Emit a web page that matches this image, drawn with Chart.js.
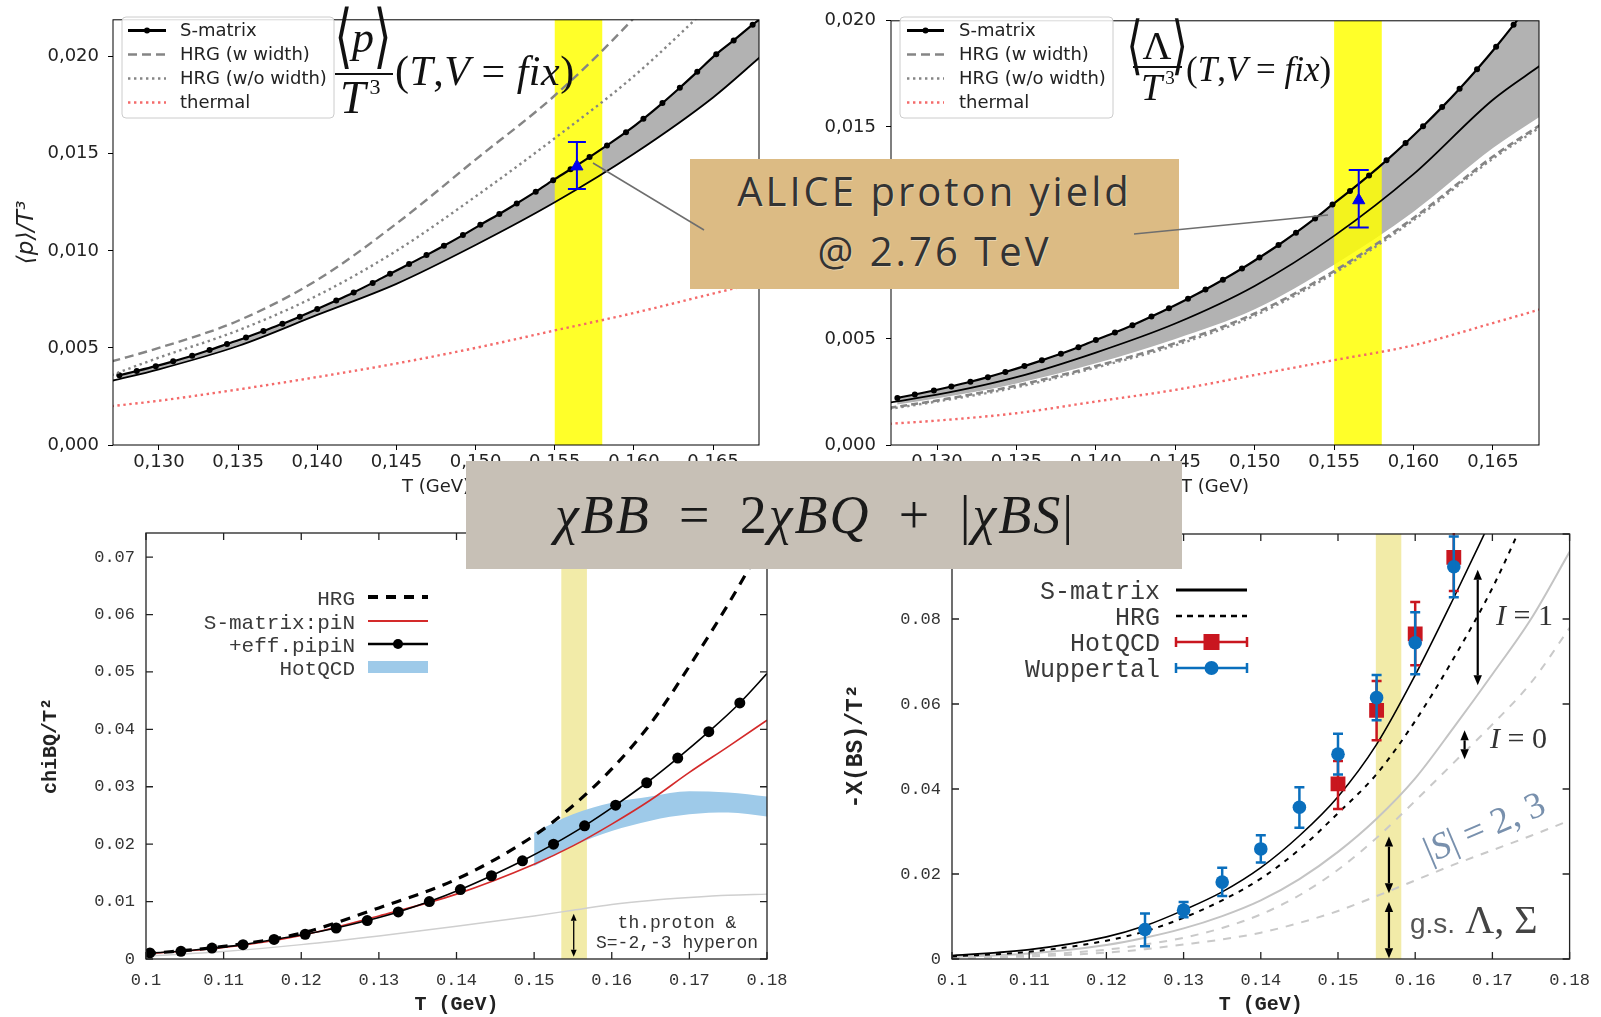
<!DOCTYPE html>
<html>
<head>
<meta charset="utf-8">
<title>S-matrix yields and susceptibilities</title>
<script src="https://cdn.jsdelivr.net/npm/chart.js@4.4.1/dist/chart.umd.min.js"></script>
<style>
  body { margin: 0; background: #fff; }
  #page { position: relative; width: 1601px; height: 1017px; overflow: hidden; background: #fff; }
  canvas { position: absolute; }
  .tex { position: absolute; font-family: 'Liberation Serif', 'DejaVu Serif', serif; color: #111; white-space: nowrap; }
  .ang { display: inline-block; font-style: normal; transform: scale(1.05, 1.6); }
  .bar { position: absolute; height: 2px; background: #111; }
  .mono { position: absolute; font-family: 'Liberation Mono', monospace; white-space: nowrap; }
  #aliceBox {
    position: absolute; left: 690px; top: 159px; width: 489px; height: 130px; box-sizing: border-box;
    padding-top: 2px; background: #dcbb84; color: #333; text-align: center;
    font-family: 'Open Sans', sans-serif; font-size: 40px; line-height: 60px; letter-spacing: 3px;
    text-shadow: 1px 1px 0 rgba(255, 255, 255, 0.35);
  }
  #chiBox { position: absolute; left: 466px; top: 461px; width: 716px; height: 108px; background: #c7c0b6; }
</style>
</head>
<body>
<div id="page">
  <canvas id="protonChart" width="800" height="500" style="left:0;top:0"></canvas>
  <canvas id="lambdaChart" width="811" height="500" style="left:790px;top:0"></canvas>
  <canvas id="bqChart" width="800" height="517" style="left:0;top:500px"></canvas>
  <canvas id="bsChart" width="801" height="517" style="left:800px;top:500px"></canvas>

  <div class="tex" style="left:333px;top:16px;width:60px;text-align:center;font-size:44px;line-height:44px"><span class="ang">⟨</span><i>p</i><span class="ang">⟩</span></div>
  <div class="bar" style="left:335px;top:73px;width:58px"></div>
  <div class="tex" style="left:340px;top:75px;font-size:46px;line-height:46px"><i>T</i><span style="font-size:22px;position:relative;top:-19px;margin-left:4px">3</span></div>
  <div class="tex" style="left:395px;top:50px;font-size:42px;line-height:42px;letter-spacing:0.5px">(<i>T</i>,<i>V</i> = <i>fix</i>)</div>

  <div class="tex" style="left:1127px;top:26px;width:60px;text-align:center;font-size:40px;line-height:40px"><span class="ang">⟨</span>Λ<span class="ang">⟩</span></div>
  <div class="bar" style="left:1133px;top:66px;width:49px"></div>
  <div class="tex" style="left:1141px;top:68px;font-size:38px;line-height:38px"><i>T</i><span style="font-size:19px;position:relative;top:-16px;margin-left:3px">3</span></div>
  <div class="tex" style="left:1186px;top:52px;font-size:35px;line-height:35px">(<i>T</i>,<i>V</i> = <i>fix</i>)</div>

  <div class="tex" style="left:1496px;top:600px;font-size:30px;line-height:30px;color:#333"><i>I</i> = 1</div>
  <div class="tex" style="left:1490px;top:723px;font-size:30px;line-height:30px;color:#333"><i>I</i> = 0</div>
  <div class="tex" style="left:1399px;top:808px;width:170px;text-align:center;font-size:37px;line-height:37px;color:#7890ad;transform:rotate(-23deg)">|<i>S</i>| = 2, 3</div>
  <div class="tex" style="left:1410px;top:900px;font-size:40px;line-height:40px;color:#444"><span style="font-family:'Liberation Sans';font-size:28px;color:#555">g.s.</span> Λ, Σ</div>
  <div class="mono" style="left:577px;top:913px;width:200px;text-align:center;font-size:18px;line-height:20px;color:#333">th.proton &amp;<br>S=-2,-3 hyperon</div>

  <div id="aliceBox">ALICE proton yield<br>@ 2.76 TeV</div>
  <svg width="1601" height="1017" style="position:absolute;left:0;top:0">
    <line x1="593" y1="163" x2="704" y2="230" stroke="#6e6e6e" stroke-width="1.5"></line>
    <line x1="1134" y1="234" x2="1328" y2="215" stroke="#6e6e6e" stroke-width="1.5"></line>
  </svg>
  <div id="chiBox">
    <div class="tex" style="left:89px;top:27px;font-size:54px;line-height:54px;letter-spacing:2px;color:#1a1a1a"><i>χBB</i> &#8201;=&#8201; 2<i>χBQ</i> &#8201;+&#8201; |<i>χBS</i>|</div>
  </div>
</div>

<script>
// ---- top panels: yields over T^3 ----
// S-matrix dots (the last entry is only where the curve leaves the frame)
let dotT = [0.1275, 0.1286, 0.1298, 0.1309, 0.1321, 0.1332, 0.1343, 0.1355, 0.1366, 0.1378, 0.1389, 0.1400,
  0.1412, 0.1423, 0.1435, 0.1446, 0.1458, 0.1469, 0.1480, 0.1492, 0.1503, 0.1515, 0.1526, 0.1538,
  0.1549, 0.1560, 0.1572, 0.1583, 0.1595, 0.1606, 0.1618, 0.1629, 0.1640, 0.1652, 0.1663, 0.1675, 0.1679];
let curveT = [0.127, 0.130, 0.135, 0.140, 0.145, 0.150, 0.155, 0.160, 0.165, 0.168];
let topTicksT = [0.130, 0.135, 0.140, 0.145, 0.150, 0.155, 0.160, 0.165];
let topTicksY = [0, 0.005, 0.010, 0.015, 0.020];
let topNames = ['S-matrix', 'HRG (w width)', 'HRG (w/o width)', 'thermal'];
let freezeBand = [0.155, 0.158];

let protonUpper = [0.00359, 0.00381, 0.00406, 0.00431, 0.00460, 0.00489, 0.00520, 0.00554, 0.00587, 0.00624, 0.00661, 0.00700,
  0.00744, 0.00786, 0.00835, 0.00882, 0.00932, 0.00978, 0.01026, 0.01081, 0.01134, 0.01190, 0.01244, 0.01305,
  0.01364, 0.01420, 0.01483, 0.01543, 0.01611, 0.01680, 0.01761, 0.01840, 0.01922, 0.02013, 0.02084, 0.02165, 0.02190];
let protonLower = [0.0033, 0.0039, 0.0051, 0.0067, 0.0083, 0.0103, 0.0125, 0.0150, 0.0179, 0.0200];
let protonHrgW = [0.0043, 0.0050, 0.0064, 0.0085, 0.0114, 0.0147, 0.0180, 0.0220, 0.0268, 0.0300];
let protonHrgWo = [0.0036, 0.0045, 0.0059, 0.0077, 0.0100, 0.0128, 0.0158, 0.0190, 0.0228, 0.0252];
let protonThermal = [0.0020, 0.00228, 0.00286, 0.0035, 0.0042, 0.0050, 0.0059, 0.0068, 0.0078, 0.0084];
let aliceProtonT = [0.1564];
let aliceProton = [0.01435];
let aliceProtonLo = [0.01318];
let aliceProtonHi = [0.01561];

let lambdaUpper = [0.00222, 0.00238, 0.00257, 0.00276, 0.00298, 0.00320, 0.00344, 0.00372, 0.00399, 0.00430, 0.00461, 0.00495,
  0.00530, 0.00565, 0.00606, 0.00645, 0.00690, 0.00733, 0.00779, 0.00832, 0.00884, 0.00943, 0.01001, 0.01068,
  0.01134, 0.01198, 0.01271, 0.01342, 0.01424, 0.01503, 0.01593, 0.01680, 0.01772, 0.01878, 0.01981, 0.02099, 0.02140];
let lambdaMid = [0.0020, 0.00237, 0.0032, 0.00436, 0.00573, 0.0075, 0.00986, 0.01277, 0.01628, 0.0179];
let lambdaEdge = [0.00185, 0.0022, 0.0029, 0.00385, 0.0050, 0.0064, 0.0085, 0.0110, 0.0140, 0.0155];
let lambdaHrgW = [0.00175, 0.0021, 0.0028, 0.00372, 0.0048, 0.0062, 0.0082, 0.0107, 0.0136, 0.0151];
let lambdaHrgWo = [0.0017, 0.00205, 0.00272, 0.00365, 0.0047, 0.0061, 0.0081, 0.0106, 0.0135, 0.0150];
let lambdaThermal = [0.0010, 0.00115, 0.0015, 0.00205, 0.0026, 0.0033, 0.0040, 0.0047, 0.00575, 0.0064];
let aliceLambdaT = [0.15655];
let aliceLambda = [0.01154];
let aliceLambdaLo = [0.01026];
let aliceLambdaHi = [0.01297];

// ---- bottom left: chi_BQ / T^2 ----
let bqT = [0.10, 0.11, 0.12, 0.13, 0.14, 0.15, 0.155, 0.16, 0.165, 0.17, 0.175, 0.18];
let bqHrg = [0.0009, 0.0022, 0.0045, 0.0089, 0.0139, 0.0215, 0.0267, 0.0331, 0.0410, 0.0510, 0.0618, 0.0735];
let bqPiN = [0.0009, 0.0020, 0.0041, 0.0075, 0.0113, 0.0165, 0.0197, 0.0235, 0.0277, 0.0325, 0.0370, 0.0416];
let bqProton = [0.0005, 0.0013, 0.0025, 0.0040, 0.0057, 0.0075, 0.0085, 0.0095, 0.0102, 0.0107, 0.0111, 0.0113];
let effT = [0.1005, 0.1045, 0.1085, 0.1125, 0.1165, 0.1205, 0.1245, 0.1285, 0.1325, 0.1365, 0.1405,
  0.1445, 0.1485, 0.1525, 0.1565, 0.1605, 0.1645, 0.1685, 0.1725, 0.1765, 0.18];
let bqEff = [0.00105, 0.00134, 0.0019, 0.0025, 0.0034, 0.0043, 0.0054, 0.0067, 0.0082, 0.0100, 0.0121,
  0.0145, 0.0171, 0.0200, 0.0232, 0.0268, 0.0307, 0.0350, 0.0396, 0.0446, 0.0497];
let latticeT = [0.15, 0.155, 0.16, 0.165, 0.17, 0.175, 0.18];
let bqLatticeHi = [0.0220, 0.0252, 0.0272, 0.0283, 0.0292, 0.0290, 0.0283];
let bqLatticeLo = [0.0162, 0.0197, 0.0223, 0.0241, 0.0252, 0.0255, 0.0248];
let bqNames = ['HRG', 'S-matrix:piN', '+eff.pipiN', 'HotQCD'];
let bqBand = [0.1535, 0.1568];
let bqArrows = [[0.1551, 0.0004, 0.0079]];
let bottomTicksT = [0.1, 0.11, 0.12, 0.13, 0.14, 0.15, 0.16, 0.17, 0.18];
let bqTicksY = [0, 0.01, 0.02, 0.03, 0.04, 0.05, 0.06, 0.07];

// ---- bottom right: -chi_BS / T^2 ----
let bsSmatT = [0.10, 0.11, 0.12, 0.125, 0.13, 0.135, 0.14, 0.145, 0.15, 0.155, 0.16, 0.165, 0.17];
let bsSmat = [0.0008, 0.0022, 0.0052, 0.0078, 0.0115, 0.0158, 0.0215, 0.0290, 0.0382, 0.0505, 0.0668, 0.0850, 0.1040];
let bsHrgT = [0.10, 0.11, 0.12, 0.125, 0.13, 0.135, 0.14, 0.145, 0.15, 0.155, 0.16, 0.165, 0.17, 0.175];
let bsHrg = [0.0006, 0.0017, 0.0043, 0.0065, 0.0097, 0.0138, 0.0189, 0.0258, 0.0343, 0.0435, 0.0560, 0.0708, 0.0873, 0.1070];
let bsT = [0.10, 0.11, 0.12, 0.125, 0.13, 0.135, 0.14, 0.145, 0.15, 0.155, 0.16, 0.165, 0.17, 0.175, 0.18];
let bsIso0 = [0.0005, 0.0013, 0.0033, 0.0050, 0.0072, 0.0101, 0.0138, 0.0188, 0.0252, 0.0330, 0.0425, 0.0545, 0.0670, 0.0800, 0.0958];
let bsStrange23 = [0.0003, 0.0009, 0.0022, 0.0034, 0.0050, 0.0073, 0.0105, 0.0150, 0.0210, 0.0285, 0.0372, 0.0462, 0.0552, 0.0650, 0.0779];
let bsGround = [0.0002, 0.0006, 0.0015, 0.0023, 0.0034, 0.0046, 0.0062, 0.0085, 0.0113, 0.0148, 0.0185, 0.0222, 0.0256, 0.0290, 0.0326];
let wupT = [0.125, 0.13, 0.135, 0.14, 0.145, 0.15, 0.155, 0.16, 0.165];
let wup = [0.00695, 0.0115, 0.0181, 0.0259, 0.0357, 0.0482, 0.0615, 0.0744, 0.0923];
let wupLo = [0.0030, 0.0098, 0.0148, 0.0227, 0.0309, 0.0434, 0.0562, 0.0670, 0.0851];
let wupHi = [0.0107, 0.0134, 0.0215, 0.0291, 0.0404, 0.0530, 0.0668, 0.0816, 0.0994];
let hotT = [0.15, 0.155, 0.16, 0.165];
let hot = [0.0412, 0.0585, 0.0765, 0.0945];
let hotLo = [0.0353, 0.0515, 0.0691, 0.0866];
let hotHi = [0.0466, 0.0654, 0.0840, 0.1020];
let bsNames = ['S-matrix', 'HRG', 'HotQCD', 'Wuppertal'];
let bsBand = [0.1549, 0.1582];
let bsArrows = [[0.1681, 0.0916, 0.0644], [0.1664, 0.0538, 0.0470], [0.1566, 0.0288, 0.0155], [0.1566, 0.0134, 0.0002]];
let bsTicksY = [0, 0.02, 0.04, 0.06, 0.08, 0.1];

Chart.defaults.font.family = "'DejaVu Sans', sans-serif";
Chart.defaults.color = '#222';

let xy = (xs, ys) => xs.map((x, i) => ({x: x, y: ys[i]}));

let curve = (label, xs, ys, color, width, dash, more) => Object.assign({
  label: label,
  data: xy(xs, ys),
  borderColor: color,
  borderWidth: width,
  borderDash: dash || [],
  pointRadius: 0,
  fill: false,
  cubicInterpolationMode: 'monotone',
  capBezierPoints: false,
}, more || {});

let framePlugin = (color, width, inTicks) => ({
  id: 'frame',
  afterDatasetsDraw(chart) {
    let {ctx, chartArea: a, scales} = chart;
    ctx.save();
    ctx.strokeStyle = color;
    ctx.lineWidth = width;
    ctx.strokeRect(a.left, a.top, a.right - a.left, a.bottom - a.top);
    if (inTicks) {
      ctx.beginPath();
      scales.x.ticks.forEach((t) => {
        let px = scales.x.getPixelForValue(t.value);
        ctx.moveTo(px, a.bottom);
        ctx.lineTo(px, a.bottom - inTicks);
        ctx.moveTo(px, a.top);
        ctx.lineTo(px, a.top + inTicks);
      });
      scales.y.ticks.forEach((t) => {
        let py = scales.y.getPixelForValue(t.value);
        ctx.moveTo(a.left, py);
        ctx.lineTo(a.left + inTicks, py);
        ctx.moveTo(a.right, py);
        ctx.lineTo(a.right - inTicks, py);
      });
      ctx.stroke();
    }
    ctx.restore();
  },
});

// vertical T band; over the filled areas in the top panels, under everything below
let bandPlugin = (range, color, overFill) => {
  let draw = (chart) => {
    let {ctx, chartArea: a, scales: {x}} = chart;
    let x1 = x.getPixelForValue(range[0]);
    let x2 = x.getPixelForValue(range[1]);
    ctx.save();
    ctx.fillStyle = color;
    ctx.fillRect(x1, a.top, x2 - x1, a.bottom - a.top);
    ctx.restore();
  };
  return overFill ? {id: 'band', beforeDatasetsDraw: draw} : {id: 'band', beforeDraw: draw};
};

let errorPlugin = {
  id: 'errorBars',
  afterDatasetDraw(chart, args) {
    let ds = chart.data.datasets[args.index];
    if (!ds.errLo) return;
    let {ctx, chartArea: a, scales: {x, y}} = chart;
    ctx.save();
    ctx.beginPath();
    ctx.rect(a.left, a.top - 1, a.right - a.left, a.bottom - a.top + 2);
    ctx.clip();
    ctx.strokeStyle = ds.borderColor;
    ctx.lineWidth = ds.errWidth;
    ctx.beginPath();
    ds.data.forEach((p, i) => {
      let px = x.getPixelForValue(p.x);
      let pc = y.getPixelForValue(p.y);
      [ds.errLo[i], ds.errHi[i]].forEach((v) => {
        let py = y.getPixelForValue(v);
        ctx.moveTo(px, pc);
        ctx.lineTo(px, py);
        ctx.moveTo(px - ds.capHalf, py);
        ctx.lineTo(px + ds.capHalf, py);
      });
    });
    ctx.stroke();
    ctx.restore();
  },
};

let arrowPlugin = (list, width, head) => ({
  id: 'arrows',
  afterDatasetsDraw(chart) {
    let {ctx, scales: {x, y}} = chart;
    ctx.save();
    ctx.strokeStyle = '#000';
    ctx.fillStyle = '#000';
    ctx.lineWidth = width;
    list.forEach(([xv, y1, y2]) => {
      let px = x.getPixelForValue(xv);
      let p1 = y.getPixelForValue(y1);
      let p2 = y.getPixelForValue(y2);
      let dir = Math.sign(p2 - p1);
      ctx.beginPath();
      ctx.moveTo(px, p1 + dir * head);
      ctx.lineTo(px, p2 - dir * head);
      ctx.stroke();
      [[p1, -dir], [p2, dir]].forEach(([tip, d]) => {
        ctx.beginPath();
        ctx.moveTo(px, tip);
        ctx.lineTo(px - head * 0.42, tip - d * head);
        ctx.lineTo(px + head * 0.42, tip - d * head);
        ctx.closePath();
        ctx.fill();
      });
    });
    ctx.restore();
  },
});

// matplotlib style legend box
let mplLegend = (styles, box, sampleX, textX, rows) => ({
  id: 'legendBox',
  afterDraw(chart) {
    let ctx = chart.ctx;
    ctx.save();
    ctx.fillStyle = 'rgba(255,255,255,0.85)';
    ctx.strokeStyle = '#cccccc';
    ctx.lineWidth = 1;
    ctx.beginPath();
    ctx.roundRect(box[0], box[1], box[2], box[3], 4);
    ctx.fill();
    ctx.stroke();
    topNames.forEach((name, i) => {
      let s = styles[i];
      let yy = rows[i];
      ctx.strokeStyle = s.color;
      ctx.lineWidth = s.width;
      ctx.setLineDash(s.dash || []);
      ctx.beginPath();
      ctx.moveTo(sampleX[0], yy);
      ctx.lineTo(sampleX[1], yy);
      ctx.stroke();
      ctx.setLineDash([]);
      if (s.dot) {
        ctx.fillStyle = s.color;
        ctx.beginPath();
        ctx.arc((sampleX[0] + sampleX[1]) / 2, yy, s.dot, 0, 2 * Math.PI);
        ctx.fill();
      }
      ctx.fillStyle = '#222';
      ctx.font = "18px 'DejaVu Sans'";
      ctx.textAlign = 'left';
      ctx.textBaseline = 'middle';
      ctx.fillText(name, textX, yy + 1);
    });
    ctx.restore();
  },
});

// gnuplot style key: label right aligned, sample to the right
let gnuLegend = (names, styles, textRight, sampleX, rows, fontSize) => ({
  id: 'keyBox',
  afterDraw(chart) {
    let ctx = chart.ctx;
    let mid = (sampleX[0] + sampleX[1]) / 2;
    ctx.save();
    names.forEach((name, i) => {
      let s = styles[i];
      let yy = rows[i];
      if (s.block) {
        ctx.fillStyle = s.color;
        ctx.fillRect(sampleX[0], yy - s.block / 2, sampleX[1] - sampleX[0], s.block);
      } else {
        ctx.strokeStyle = s.color;
        ctx.lineWidth = s.width;
        ctx.setLineDash(s.dash || []);
        ctx.beginPath();
        ctx.moveTo(sampleX[0], yy);
        ctx.lineTo(sampleX[1], yy);
        ctx.stroke();
        ctx.setLineDash([]);
      }
      if (s.caps) {
        ctx.beginPath();
        ctx.moveTo(sampleX[0], yy - s.caps);
        ctx.lineTo(sampleX[0], yy + s.caps);
        ctx.moveTo(sampleX[1], yy - s.caps);
        ctx.lineTo(sampleX[1], yy + s.caps);
        ctx.stroke();
      }
      ctx.fillStyle = s.color;
      if (s.circle) {
        ctx.beginPath();
        ctx.arc(mid, yy, s.circle, 0, 2 * Math.PI);
        ctx.fill();
      }
      if (s.square) ctx.fillRect(mid - s.square / 2, yy - s.square / 2, s.square, s.square);
      ctx.fillStyle = '#3a3a3a';
      ctx.font = fontSize + "px 'Liberation Mono'";
      ctx.textAlign = 'right';
      ctx.textBaseline = 'middle';
      ctx.fillText(name, textRight, yy + 2);
    });
    ctx.restore();
  },
});

let fixedTicks = (list) => (axis) => { axis.ticks = list.map((v) => ({value: v})); };

let topScales = (yMax, yWidth, yPad, yTitle) => ({
  x: {
    type: 'linear', min: 0.1271, max: 0.1679, bounds: 'data',
    afterBuildTicks: fixedTicks(topTicksT),
    afterFit: (axis) => { axis.height = 55; },
    ticks: {autoSkip: false, maxRotation: 0, padding: 2, font: {size: 18}, color: '#222',
      callback: (v) => v.toFixed(3).replace('.', ',')},
    grid: {drawOnChartArea: false, tickLength: 5, color: '#000'},
    border: {display: false},
    title: {display: true, text: 'T (GeV)', font: {size: 18}, color: '#222', padding: {top: 0, bottom: 2}},
  },
  y: {
    type: 'linear', min: 0, max: yMax, bounds: 'data',
    afterBuildTicks: fixedTicks(topTicksY),
    afterFit: (axis) => { axis.width = yWidth; },
    ticks: {autoSkip: false, padding: yPad, font: {size: 18}, color: '#222',
      callback: (v) => v.toFixed(3).replace('.', ',')},
    grid: {drawOnChartArea: false, tickLength: 5, color: '#000'},
    border: {display: false},
    title: {display: true, text: yTitle, font: {size: 23, style: 'italic'}, color: '#222', padding: {top: 13}},
  },
});

let bottomScales = (yMax, yTicks, yWidth, yTitle, yTitleSize, yTitlePad) => ({
  x: {
    type: 'linear', min: 0.1, max: 0.18, bounds: 'data',
    afterBuildTicks: fixedTicks(bottomTicksT),
    afterFit: (axis) => { axis.height = 58; },
    ticks: {autoSkip: false, maxRotation: 0, padding: 11, font: {family: "'Liberation Mono'", size: 17}, color: '#333',
      callback: (v) => String(+v.toFixed(3))},
    grid: {display: false, drawTicks: false},
    border: {display: false},
    title: {display: true, text: 'T (GeV)', font: {family: "'Liberation Mono'", size: 20, weight: 'bold'}, color: '#222',
      padding: {top: 0, bottom: 0}},
  },
  y: {
    type: 'linear', min: 0, max: yMax, bounds: 'data',
    afterBuildTicks: fixedTicks(yTicks),
    afterFit: (axis) => { axis.width = yWidth; },
    ticks: {autoSkip: false, padding: 11, font: {family: "'Liberation Mono'", size: 17}, color: '#333',
      callback: (v) => String(+v.toFixed(3))},
    grid: {display: false, drawTicks: false},
    border: {display: false},
    title: {display: true, text: yTitle, font: {family: "'Liberation Mono'", size: yTitleSize, weight: 'bold'}, color: '#222',
      padding: {top: yTitlePad}},
  },
});

let baseOptions = (padding, scales, fillerTime) => ({
  responsive: false,
  animation: false,
  devicePixelRatio: 1,
  events: [],
  layout: {padding: padding},
  scales: scales,
  plugins: {
    legend: {display: false},
    tooltip: {enabled: false},
    filler: {drawTime: fillerTime},
  },
});

let dotRadius = (c) => (c.dataIndex < dotT.length - 1 ? 3 : 0);

// top left: protons
new Chart(document.getElementById('protonChart'), {
  type: 'line',
  data: {
    datasets: [
      curve(topNames[0], dotT, protonUpper, '#000', 2.2, null,
        {pointRadius: dotRadius, pointBackgroundColor: '#000', pointBorderWidth: 0, order: 3}),
      curve('S-matrix band', curveT, protonLower, '#000', 1.8, null,
        {fill: '-1', backgroundColor: '#b2b2b2', order: 4}),
      curve(topNames[1], curveT, protonHrgW, '#858585', 2.4, [9, 5], {order: 2}),
      curve(topNames[2], curveT, protonHrgWo, '#858585', 2.4, [2.4, 3.6], {order: 2}),
      curve(topNames[3], curveT, protonThermal, '#f46a6a', 2.4, [2.4, 3.6], {order: 2}),
      {
        label: 'ALICE', data: xy(aliceProtonT, aliceProton), showLine: false,
        pointStyle: 'triangle', pointRadius: 7, backgroundColor: '#0000ee', borderColor: '#0000ee', borderWidth: 1,
        errLo: aliceProtonLo, errHi: aliceProtonHi, errWidth: 2, capHalf: 9, order: 0,
      },
    ],
  },
  options: baseOptions({left: 0, top: 10, right: 41, bottom: 0},
    topScales(0.0219, 113, 9, '⟨p⟩/T³'), 'beforeDatasetsDraw'),
  plugins: [
    bandPlugin(freezeBand, 'rgba(255,255,0,0.84)', true),
    framePlugin('#000', 1, 0),
    errorPlugin,
    mplLegend([
      {color: '#000', width: 3, dot: 3},
      {color: '#858585', width: 2.4, dash: [9, 5]},
      {color: '#858585', width: 2.4, dash: [2.4, 3.6]},
      {color: '#f46a6a', width: 2.4, dash: [2.4, 3.6]},
    ], [122, 17, 212, 101], [128, 166], 180, [30.5, 54.5, 78.5, 102.5]),
  ],
});

// top right: lambdas
new Chart(document.getElementById('lambdaChart'), {
  type: 'line',
  data: {
    datasets: [
      curve(topNames[0], dotT, lambdaUpper, '#000', 2.2, null,
        {pointRadius: dotRadius, pointBackgroundColor: '#000', pointBorderWidth: 0, order: 3}),
      curve('S-matrix band', curveT, lambdaEdge, 'rgba(0,0,0,0)', 0, null,
        {fill: '-1', backgroundColor: '#b2b2b2', order: 4}),
      curve('S-matrix central', curveT, lambdaMid, '#000', 1.8, null, {order: 3}),
      curve(topNames[1], curveT, lambdaHrgW, '#858585', 2.6, [7, 4], {order: 2}),
      curve(topNames[2], curveT, lambdaHrgWo, '#8c8c8c', 2.4, [2.4, 3.6], {order: 2}),
      curve(topNames[3], curveT, lambdaThermal, '#f46a6a', 2.4, [2.4, 3.6], {order: 2}),
      {
        label: 'ALICE', data: xy(aliceLambdaT, aliceLambda), showLine: false,
        pointStyle: 'triangle', pointRadius: 7, backgroundColor: '#0000ee', borderColor: '#0000ee', borderWidth: 1,
        errLo: aliceLambdaLo, errHi: aliceLambdaHi, errWidth: 2, capHalf: 10, order: 0,
      },
    ],
  },
  options: baseOptions({left: 0, top: 9, right: 62, bottom: 0},
    topScales(0.020, 101, 10, '⟨Λ⟩/T³'), 'beforeDatasetsDraw'),
  plugins: [
    bandPlugin(freezeBand, 'rgba(255,255,0,0.84)', true),
    framePlugin('#000', 1, 0),
    errorPlugin,
    mplLegend([
      {color: '#000', width: 3, dot: 3},
      {color: '#858585', width: 2.4, dash: [9, 5]},
      {color: '#858585', width: 2.4, dash: [2.4, 3.6]},
      {color: '#f46a6a', width: 2.4, dash: [2.4, 3.6]},
    ], [110, 17, 213, 101], [117, 154], 169, [30.5, 54.5, 78.5, 102.5]),
  ],
});

// bottom left: chi_BQ
new Chart(document.getElementById('bqChart'), {
  type: 'line',
  data: {
    datasets: [
      curve('HotQCD upper', latticeT, bqLatticeHi, 'rgba(0,0,0,0)', 0, null, {order: 10}),
      curve(bqNames[3], latticeT, bqLatticeLo, 'rgba(0,0,0,0)', 0, null,
        {fill: '-1', backgroundColor: '#9ecae9', order: 10}),
      curve('th.proton', bqT, bqProton, '#cfcfcf', 1.4, null, {order: 6}),
      curve(bqNames[1], bqT, bqPiN, '#d42a2a', 1.6, null, {order: 5}),
      curve(bqNames[0], bqT, bqHrg, '#000', 3.2, [10, 8], {order: 4}),
      curve(bqNames[2], effT, bqEff, '#000', 1.6, null, {
        order: 3, pointBackgroundColor: '#000', pointBorderWidth: 0,
        pointRadius: (c) => (c.dataIndex < effT.length - 1 ? 5.5 : 0),
      }),
    ],
  },
  options: baseOptions({left: 0, top: 33, right: 33, bottom: 0},
    bottomScales(0.0742, bqTicksY, 146, 'chiBQ/T²', 20, 39), 'beforeDatasetDraw'),
  plugins: [
    bandPlugin(bqBand, '#f2eba8', false),
    framePlugin('#222', 1.3, 7),
    arrowPlugin(bqArrows, 1.3, 7),
    gnuLegend(bqNames, [
      {color: '#000', width: 4, dash: [10, 8]},
      {color: '#d42a2a', width: 2},
      {color: '#000', width: 2.5, circle: 5},
      {color: '#9ecae9', block: 12},
    ], 355, [368, 428], [97, 121, 144, 167], 21),
  ],
});

// bottom right: chi_BS
new Chart(document.getElementById('bsChart'), {
  type: 'line',
  data: {
    datasets: [
      curve('g.s. Lambda, Sigma', bsT, bsGround, '#c9c9c9', 2, [8, 8], {order: 6}),
      curve('|S| = 2,3', bsT, bsStrange23, '#c9c9c9', 2, [8, 8], {order: 6}),
      curve('I = 0', bsT, bsIso0, '#c4c4c4', 2, null, {order: 6}),
      curve(bsNames[1], bsHrgT, bsHrg, '#000', 2, [5, 6], {order: 5}),
      curve(bsNames[0], bsSmatT, bsSmat, '#000', 1.6, null, {order: 5}),
      {
        label: bsNames[2], data: xy(hotT, hot), showLine: false,
        pointStyle: 'rect', pointRadius: 10.5, backgroundColor: '#c9161f', borderColor: '#c9161f', borderWidth: 0,
        errLo: hotLo, errHi: hotHi, errWidth: 2.5, capHalf: 5, order: 2,
      },
      {
        label: bsNames[3], data: xy(wupT, wup), showLine: false,
        pointStyle: 'circle', pointRadius: 6.8, backgroundColor: '#0a6fbd', borderColor: '#0a6fbd', borderWidth: 0,
        errLo: wupLo, errHi: wupHi, errWidth: 2.5, capHalf: 5, order: 1,
      },
    ],
  },
  options: baseOptions({left: 0, top: 34, right: 28, bottom: 0},
    bottomScales(0.1, bsTicksY, 152, '-X(BS)/T²', 23, 42), 'beforeDatasetDraw'),
  plugins: [
    bandPlugin(bsBand, '#f2eba8', false),
    framePlugin('#222', 1.3, 7),
    errorPlugin,
    arrowPlugin(bsArrows, 2.2, 10),
    gnuLegend(bsNames, [
      {color: '#000', width: 3},
      {color: '#000', width: 2.5, dash: [6, 5]},
      {color: '#c9161f', width: 2.5, caps: 5, square: 16},
      {color: '#0a6fbd', width: 2.5, caps: 5, circle: 7},
    ], 360, [376, 447], [90, 116, 142, 168], 25),
  ],
});
</script>
</body>
</html>
